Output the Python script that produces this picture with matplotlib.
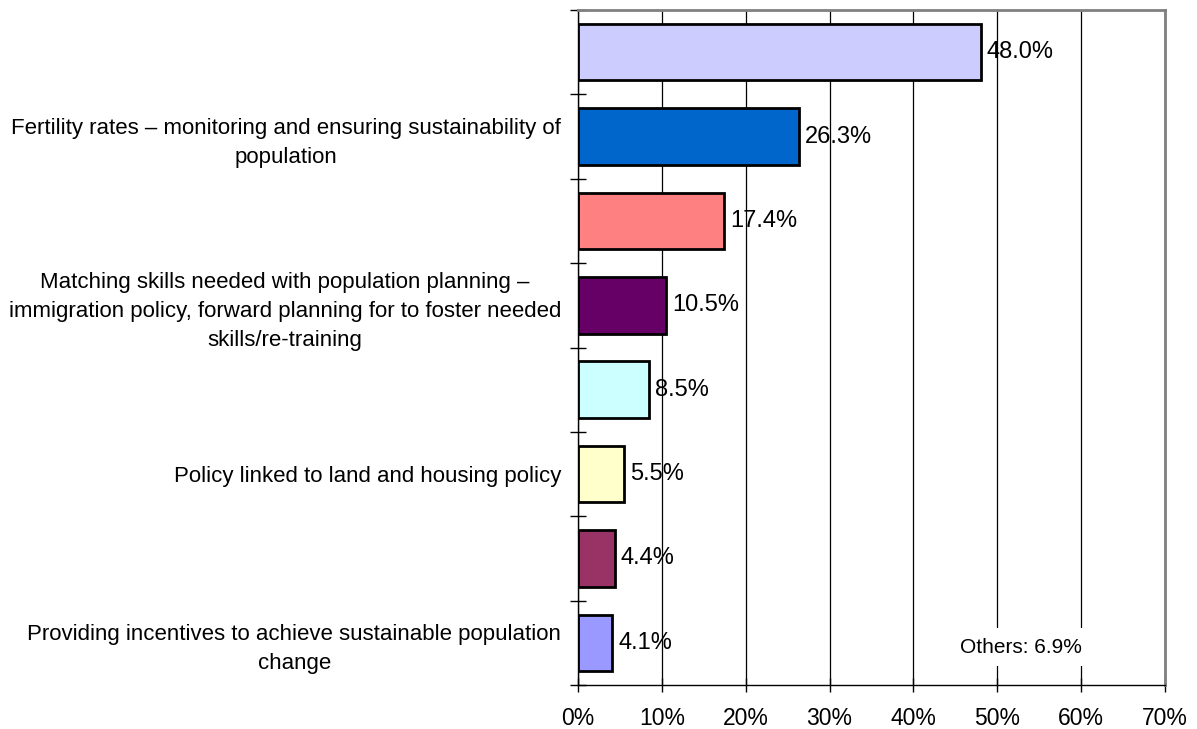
import matplotlib.pyplot as plt
from matplotlib.ticker import MultipleLocator, PercentFormatter

plt.rcParams['font.family'] = ['Liberation Sans', 'DejaVu Sans']

labels = [
    "",
    "Fertility rates \u2013 monitoring and ensuring sustainability of\npopulation",
    "",
    "Matching skills needed with population planning \u2013\nimmigration policy, forward planning for to foster needed\nskills/re-training",
    "",
    "Policy linked to land and housing policy",
    "",
    "Providing incentives to achieve sustainable population\nchange",
]
values = [48.0, 26.3, 17.4, 10.5, 8.5, 5.5, 4.4, 4.1]
colors = ["#CCCCFF", "#0066CC", "#FF8080", "#660066",
          "#CCFFFF", "#FFFFCC", "#993366", "#9999FF"]
others_text = "Others: 6.9%"

fig = plt.figure(figsize=(11.97, 7.29), dpi=100)
ax = fig.add_axes([578 / 1197, 1 - 685 / 729, (1165 - 578) / 1197, (685 - 10) / 729])

n = len(values)
ypos = list(range(n))
ax.barh(ypos, values, height=0.67, color=colors, edgecolor="black",
        linewidth=2, zorder=3)

for y, v in zip(ypos, values):
    ax.text(v + 0.7, y, f"{v:.1f}%", va="center", ha="left",
            fontsize=17, zorder=4)

ax.set_xlim(0, 70)
ax.set_ylim(n - 0.5, -0.5)
ax.xaxis.set_major_locator(MultipleLocator(10))
ax.xaxis.set_major_formatter(PercentFormatter(decimals=0))
ax.grid(axis="x", color="black", linewidth=0.9, zorder=1)

# category labels on bars, ticks at category boundaries
ax.set_yticks(ypos)
ax.set_yticklabels(labels, fontsize=16, ha="right", multialignment="center",
                   linespacing=1.5)
ax.tick_params(axis="y", length=0, pad=12)
ax.set_yticks([i - 0.5 for i in range(n + 1)], minor=True)
ax.tick_params(axis="y", which="minor", length=12, direction="inout", width=1)
ax.tick_params(axis="x", length=10, direction="inout", width=1, labelsize=16.5, pad=11)

for side in ["top", "right"]:
    ax.spines[side].set_color("#808080")
    ax.spines[side].set_linewidth(2)
for side in ["left", "bottom"]:
    ax.spines[side].set_color("black")
    ax.spines[side].set_linewidth(1)

ax.text(52.8, 7.05, others_text, ha="center", va="center", fontsize=15,
        zorder=4, bbox=dict(facecolor="white", edgecolor="none", pad=7))

fig.savefig("out.png", dpi=100)
